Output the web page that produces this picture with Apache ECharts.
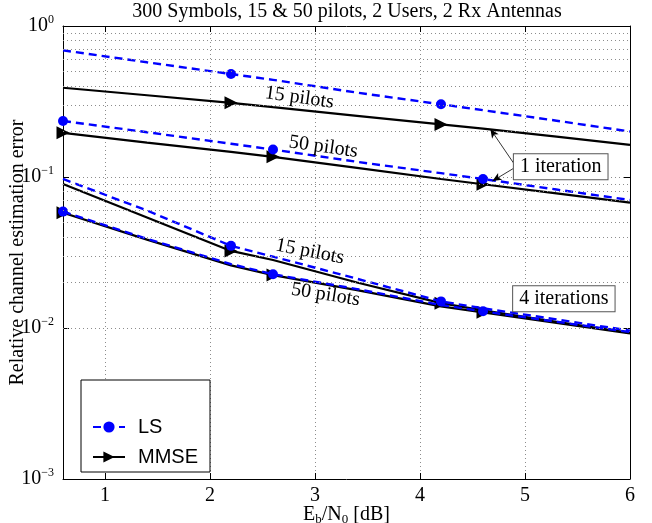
<!DOCTYPE html>
<html>
<head>
<meta charset="utf-8">
<title>Channel estimation error</title>
<script src="https://cdn.jsdelivr.net/npm/echarts@6/dist/echarts.min.js"></script>
<style>
html, body { margin: 0; padding: 0; background: #fff; }
#main { width: 652px; height: 523px; }
</style>
</head>
<body>
<div id="main"></div>
<script>
// Eb/N0 points (dB)
var ebn0 = [0.6, 1.4, 2.2, 2.6, 3.4, 4.2, 4.6, 5.3, 6.0];

// 1 iteration
var ls15It1 = [0.69, 0.575, 0.481, 0.44, 0.362, 0.303, 0.277, 0.236, 0.200];
var mmse15It1 = [0.39, 0.348, 0.31, 0.29, 0.254, 0.223, 0.209, 0.185, 0.163];
var ls50It1 = [0.235, 0.198, 0.166, 0.152, 0.126, 0.106, 0.097, 0.0826, 0.0704];
var mmse50It1 = [0.196, 0.169, 0.1465, 0.136, 0.1148, 0.097, 0.0895, 0.0778, 0.0676];

// 4 iterations
var ls15It4 = [0.097, 0.060, 0.035, 0.0297, 0.0212, 0.015, 0.0135, 0.0114, 0.0096];
var mmse15It4 = [0.090, 0.054, 0.0324, 0.0282, 0.02, 0.0146, 0.0131, 0.011, 0.0093];
var ls50It4 = [0.059, 0.039, 0.0265, 0.0227, 0.0181, 0.0142, 0.0129, 0.011, 0.0094];
var mmse50It4 = [0.058, 0.0385, 0.026, 0.0224, 0.0178, 0.0139, 0.0127, 0.0108, 0.0092];

// index of the points that carry a marker
var marks15 = [2, 5];
var marks50 = [0, 3, 6];

var xTicks = [1, 2, 3, 4, 5, 6];
// minor grid lines of the log axis
var minorGrid = [0.002, 0.003, 0.004, 0.005, 0.006, 0.007, 0.008, 0.009,
	0.02, 0.03, 0.04, 0.05, 0.06, 0.07, 0.08, 0.09,
	0.2, 0.3, 0.4, 0.5, 0.6, 0.7, 0.8, 0.9];

var serif = '"Liberation Serif", "Times New Roman", serif';
var sans = '"Liberation Sans", Arial, sans-serif';
var gridLine = { color: '#8c8c8c', width: 1, type: [1, 3] };

function points(values, marks) {
	return ebn0.map(function (x, i) {
		var item = { value: [x, values[i]] };
		if (marks.indexOf(i) < 0) item.symbol = 'none';
		return item;
	});
}

function lsSeries(values, marks) {
	return {
		name: 'LS',
		type: 'line',
		z: 4,
		data: points(values, marks),
		symbol: 'circle',
		symbolSize: 10,
		showSymbol: true,
		showAllSymbol: true,
		lineStyle: { color: '#0000ff', width: 2.4, type: [8, 5] },
		itemStyle: { color: '#0000ff' }
	};
}

function mmseSeries(values, marks) {
	return {
		name: 'MMSE',
		type: 'line',
		z: 3,
		data: points(values, marks),
		symbol: 'triangle',
		symbolSize: 13,
		symbolRotate: -90,
		showSymbol: true,
		showAllSymbol: true,
		lineStyle: { color: '#000', width: 2.2 },
		itemStyle: { color: '#000' }
	};
}

var chart = echarts.init(document.getElementById('main'));

var option = {
	animation: false,
	backgroundColor: '#fff',
	title: {
		text: '300 Symbols, 15 & 50 pilots, 2 Users, 2 Rx Antennas',
		left: 347,
		textAlign: 'center',
		top: 2,
		padding: 0,
		textStyle: { fontFamily: serif, fontSize: 20, fontWeight: 'normal', color: '#000' }
	},
	grid: { left: 63, right: 22, top: 26, bottom: 44, containLabel: false, outerBoundsMode: 'none' },
	legend: {
		data: ['LS', 'MMSE'],
		orient: 'vertical',
		left: 81,
		top: 380,
		itemWidth: 32,
		itemHeight: 14,
		itemGap: 10,
		padding: [37, 12, 5, 11],
		borderColor: '#000',
		borderWidth: 1,
		backgroundColor: '#fff',
		selectedMode: false,
		textStyle: { fontFamily: sans, fontSize: 20, color: '#000', padding: [0, 0, 0, 8] }
	},
	xAxis: [{
		type: 'value',
		min: 0.6,
		max: 6,
		name: '{a|E}{s|b}{a|/N}{s|0}{a| [dB]}',
		nameLocation: 'middle',
		nameGap: 24,
		nameMoveOverlap: false,
		nameTextStyle: {
			rich: {
				a: { fontFamily: serif, fontSize: 20, color: '#000' },
				s: { fontFamily: serif, fontSize: 13, color: '#000', padding: [10, 0, 0, 0] }
			}
		},
		axisLine: { show: true, lineStyle: { color: '#000', width: 1 } },
		axisTick: { show: true, inside: true, length: 6, customValues: xTicks, lineStyle: { color: '#000' } },
		axisLabel: { customValues: xTicks, fontFamily: serif, fontSize: 20, color: '#000', margin: 7 },
		splitLine: { show: true, lineStyle: gridLine }
	}, {
		type: 'value',
		position: 'top',
		min: 0.6,
		max: 6,
		axisLine: { show: true, lineStyle: { color: '#000', width: 1 } },
		axisTick: { show: true, inside: true, length: 6, customValues: xTicks, lineStyle: { color: '#000' } },
		axisLabel: { show: false },
		splitLine: { show: false }
	}],
	yAxis: [{
		type: 'log',
		logBase: 10,
		min: 0.001,
		max: 1,
		name: 'Relative channel estimation error',
		nameLocation: 'middle',
		nameGap: 35,
		nameMoveOverlap: false,
		nameTextStyle: { fontFamily: serif, fontSize: 20, color: '#000' },
		axisLine: { show: true, lineStyle: { color: '#000', width: 1 } },
		axisTick: { show: true, inside: true, length: 6, lineStyle: { color: '#000' } },
		axisLabel: {
			margin: 9,
			formatter: function (v) {
				var e = Math.round(Math.log10(v));
				return '{b|10}{e|' + (e < 0 ? '\u2212' + (-e) : e) + '}';
			},
			rich: {
				b: { fontFamily: serif, fontSize: 20, color: '#000' },
				e: { fontFamily: serif, fontSize: 12, color: '#000', padding: [0, 0, 12, 0] }
			}
		},
		splitLine: { show: true, lineStyle: gridLine }
	}, {
		type: 'log',
		logBase: 10,
		min: 0.001,
		max: 1,
		position: 'right',
		axisLine: { show: true, lineStyle: { color: '#000', width: 1 } },
		axisTick: { show: true, inside: true, length: 6, lineStyle: { color: '#000' } },
		axisLabel: { show: false },
		splitLine: { show: false }
	}],
	series: [
		{
			name: 'grid',
			type: 'line',
			z: 1,
			data: [],
			markLine: {
				silent: true,
				symbol: 'none',
				label: { show: false },
				lineStyle: gridLine,
				data: minorGrid.map(function (v) { return { yAxis: v }; })
			}
		},
		{
			name: 'arrows',
			type: 'line',
			z: 5,
			data: [],
			markLine: {
				silent: true,
				symbol: ['none', 'arrow'],
				symbolSize: [6, 9],
				label: { show: false },
				lineStyle: { color: '#000', width: 0.8, type: 'solid' },
				data: [
					[{ coord: [4.89, 0.124] }, { coord: [4.67, 0.208] }],
					[{ coord: [4.89, 0.114] }, { coord: [4.69, 0.094] }]
				]
			}
		},
		mmseSeries(mmse15It1, marks15),
		lsSeries(ls15It1, marks15),
		mmseSeries(mmse50It1, marks50),
		lsSeries(ls50It1, marks50),
		mmseSeries(mmse15It4, marks15),
		lsSeries(ls15It4, marks15),
		mmseSeries(mmse50It4, marks50),
		lsSeries(ls50It4, marks50)
	]
};

chart.setOption(option);

// text notes, placed in data coordinates
var notes = [
	{ text: '15 pilots', at: [2.85, 0.335], rot: -8 },
	{ text: '50 pilots', at: [3.08, 0.158], rot: -8 },
	{ text: '15 pilots', at: [2.95, 0.032], rot: -11 },
	{ text: '50 pilots', at: [3.1, 0.0166], rot: -9 }
];
var boxes = [
	{ text: '1 iteration', at: [5.34, 0.117] },
	{ text: '4 iterations', at: [5.37, 0.0156] }
];

var graphics = [];
notes.forEach(function (n) {
	var p = chart.convertToPixel({ seriesIndex: 2 }, n.at);
	graphics.push({
		type: 'text',
		x: p[0],
		y: p[1],
		rotation: n.rot * Math.PI / 180,
		z: 10,
		style: { text: n.text, font: '20px ' + serif, fill: '#000', align: 'center', verticalAlign: 'middle' }
	});
});
boxes.forEach(function (b) {
	var p = chart.convertToPixel({ seriesIndex: 2 }, b.at);
	graphics.push({
		type: 'text',
		x: p[0],
		y: p[1],
		z: 10,
		style: {
			text: b.text,
			font: '20px ' + serif,
			fill: '#000',
			align: 'center',
			verticalAlign: 'middle',
			backgroundColor: '#fff',
			borderColor: '#555',
			borderWidth: 1,
			padding: [3, 6, 2, 6]
		}
	});
});
chart.setOption({ graphic: graphics });
</script>
</body>
</html>
